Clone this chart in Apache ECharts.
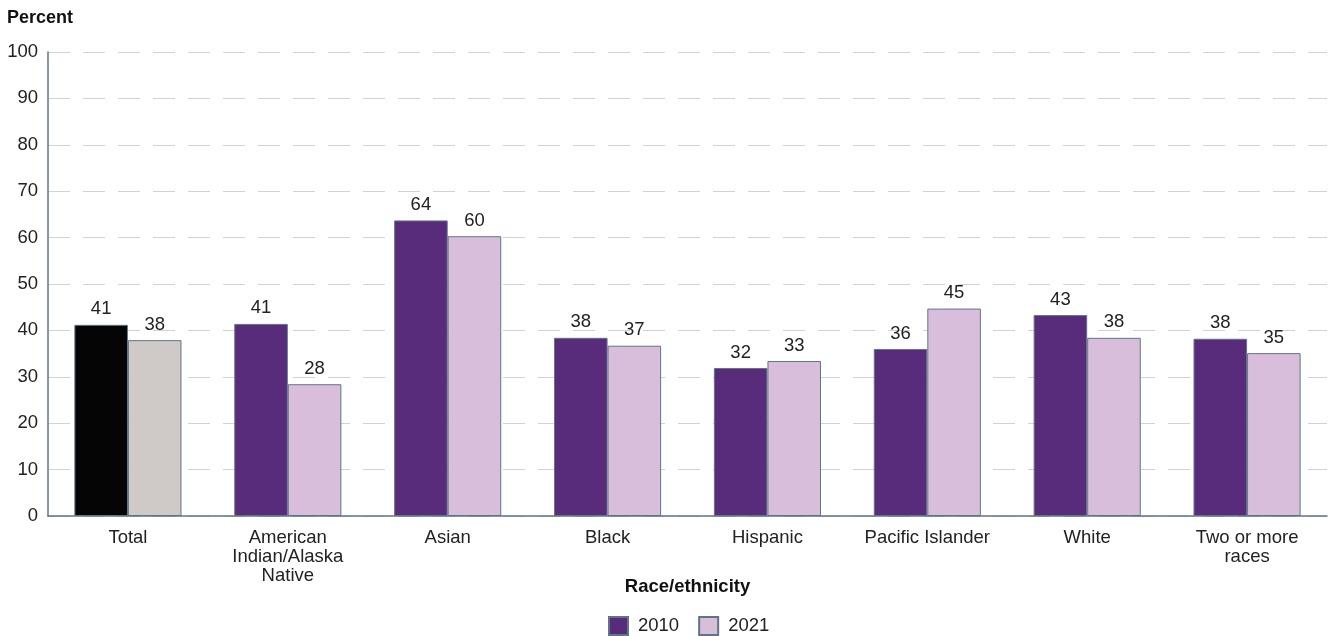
<!DOCTYPE html>
<html>
<head>
<meta charset="utf-8">
<script src="https://cdn.jsdelivr.net/npm/echarts@6/dist/echarts.min.js"></script>
<style>html,body{margin:0;padding:0;background:#fff}#c{width:1330px;height:636px}</style>
</head>
<body>
<div id="c"></div>
<script>
var categories = ['Total', 'American\nIndian/Alaska\nNative', 'Asian', 'Black', 'Hispanic', 'Pacific Islander', 'White', 'Two or more\nraces'];
var values2010 = [41.2, 41.4, 63.7, 38.4, 31.9, 36.0, 43.3, 38.2];
var values2021 = [37.9, 28.4, 60.3, 36.7, 33.4, 44.7, 38.4, 35.1];
var seriesNames = ['2010', '2021'];
var yTicks = [0, 10, 20, 30, 40, 50, 60, 70, 80, 90, 100];

var FONT = '"Liberation Sans", Arial, sans-serif';
var TXT = '#222222';
var BORDER = '#5f7587';
var FS = 18.5;

function buildData(vals, totalColor) {
  return vals.map(function (v, i) {
    if (i === 0) return { value: v, itemStyle: { color: totalColor } };
    return v;
  });
}

var chart = echarts.init(document.getElementById('c'), null, { renderer: 'canvas' });
chart.setOption({
  animation: false,
  backgroundColor: '#ffffff',
  textStyle: { fontFamily: FONT },
  title: {
    text: 'Percent', left: 7, top: 9, padding: 0,
    textStyle: { fontFamily: FONT, fontSize: 18, fontWeight: 'bold', color: '#111' }
  },
  legend: {
    data: seriesNames,
    left: 608, top: 616, padding: 0,
    itemWidth: 19, itemHeight: 18, itemGap: 19,
    icon: 'rect',
    textStyle: { fontFamily: FONT, fontSize: FS, color: TXT, padding: [0, 0, 0, 5] }
  },
  grid: { left: 48, right: 3, top: 52, bottom: 120, containLabel: false },
  xAxis: {
    type: 'category',
    data: categories,
    name: 'Race/ethnicity',
    nameLocation: 'middle',
    nameGap: 61,
    nameMoveOverlap: false,
    nameTextStyle: { fontFamily: FONT, fontSize: FS, fontWeight: 'bold', color: '#111' },
    axisLine: { lineStyle: { color: BORDER, width: 1.5 } },
    axisTick: { show: false },
    axisLabel: { fontFamily: FONT, fontSize: FS, color: TXT, margin: 12, lineHeight: 19, interval: 0 }
  },
  yAxis: {
    type: 'value', min: yTicks[0], max: yTicks[yTicks.length - 1], interval: 10,
    axisLine: { show: true, lineStyle: { color: BORDER, width: 1.5 } },
    axisTick: { show: false },
    axisLabel: { fontFamily: FONT, fontSize: FS, color: TXT, margin: 10 },
    splitLine: { show: true, lineStyle: { color: '#d2d2d2', type: [22, 13], width: 1 } }
  },
  series: [
    {
      name: seriesNames[0], type: 'bar',
      data: buildData(values2010, '#050505'),
      barGap: '0%', barCategoryGap: '33%',
      itemStyle: { color: '#582c7a', borderColor: BORDER, borderWidth: 1 },
      label: { show: true, position: 'top', distance: 6, fontFamily: FONT, fontSize: FS, color: TXT,
        formatter: function (p) { return Math.round(p.value); } }
    },
    {
      name: seriesNames[1], type: 'bar',
      data: buildData(values2021, '#cfcac7'),
      barGap: '0%', barCategoryGap: '33%',
      itemStyle: { color: '#d8bedb', borderColor: BORDER, borderWidth: 1 },
      label: { show: true, position: 'top', distance: 6, fontFamily: FONT, fontSize: FS, color: TXT,
        formatter: function (p) { return Math.round(p.value); } }
    }
  ]
});
</script>
</body>
</html>
